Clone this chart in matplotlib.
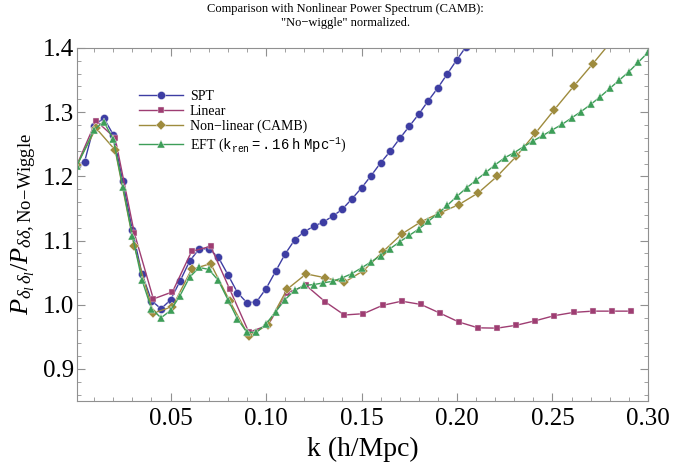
import matplotlib
matplotlib.use("Agg")
import matplotlib.pyplot as plt
from matplotlib.ticker import MultipleLocator, FixedLocator

plt.rcParams['font.family'] = ['Liberation Serif', 'DejaVu Serif']
plt.rcParams['mathtext.fontset'] = 'custom'
plt.rcParams['mathtext.rm'] = 'Liberation Serif'
plt.rcParams['mathtext.it'] = 'Liberation Serif:italic'
plt.rcParams['mathtext.bf'] = 'Liberation Serif:bold'
plt.rcParams['mathtext.tt'] = 'Liberation Mono'
plt.rcParams['mathtext.fallback'] = 'stix'

# SPT
spt_k = [0.001, 0.005, 0.010, 0.015, 0.020, 0.025, 0.030, 0.035, 0.040, 0.045,
         0.050, 0.055, 0.060, 0.065, 0.070, 0.075, 0.080, 0.085, 0.090, 0.095,
         0.100, 0.105, 0.110, 0.115, 0.120, 0.125, 0.130, 0.135, 0.140, 0.145,
         0.150, 0.155, 0.160, 0.165, 0.170, 0.175, 0.180, 0.185, 0.190, 0.195,
         0.200, 0.2045]
spt_r = [1.218, 1.223, 1.279, 1.291, 1.265, 1.192, 1.116, 1.0485, 1.0065, 0.9936,
         1.0076, 1.037, 1.068, 1.087, 1.087, 1.074, 1.047, 1.019, 1.003, 1.0045,
         1.025, 1.052, 1.079, 1.101, 1.114, 1.122, 1.129, 1.138, 1.149, 1.165,
         1.182, 1.201, 1.221, 1.239, 1.259, 1.278, 1.297, 1.318, 1.338, 1.360,
         1.382, 1.401]

# Linear
lin_k = [0.001, 0.011, 0.021, 0.031, 0.041, 0.051, 0.061, 0.071, 0.081, 0.091,
         0.101, 0.111, 0.121, 0.131, 0.141, 0.151, 0.161, 0.171, 0.181, 0.191,
         0.201, 0.211, 0.221, 0.231, 0.241, 0.251, 0.261, 0.271, 0.281, 0.291]
lin_r = [1.218, 1.2865, 1.2596, 1.112, 1.009, 1.020, 1.083, 1.091, 1.024, 0.957,
         0.968, 1.0185, 1.030, 1.0045, 0.984, 0.986, 0.999, 1.0055, 1.0005, 0.987,
         0.973, 0.964, 0.9635, 0.968, 0.975, 0.983, 0.988, 0.990, 0.990, 0.990]

# Non-linear (CAMB)
camb_k = [0.001, 0.011, 0.021, 0.031, 0.041, 0.051, 0.061, 0.071, 0.081, 0.091,
          0.101, 0.111, 0.121, 0.131, 0.141, 0.151, 0.161, 0.171, 0.181, 0.191,
          0.201, 0.211, 0.221, 0.231, 0.241, 0.251, 0.261, 0.271, 0.281]
camb_r = [1.218, 1.275, 1.241, 1.091, 0.987, 0.997, 1.055, 1.064, 1.0055, 0.951,
          0.969, 1.024, 1.048, 1.042, 1.035, 1.053, 1.082, 1.110, 1.129, 1.143,
          1.156, 1.174, 1.200, 1.231, 1.267, 1.304, 1.340, 1.375, 1.411]

# EFT
eft_k = [0.001, 0.010, 0.015, 0.020, 0.025, 0.030, 0.035, 0.040, 0.045, 0.050,
         0.055, 0.060, 0.065, 0.070, 0.075, 0.080, 0.085, 0.090, 0.095, 0.100,
         0.105, 0.110, 0.115, 0.120, 0.125, 0.130, 0.135, 0.140, 0.145, 0.150,
         0.155, 0.160, 0.165, 0.170, 0.175, 0.180, 0.185, 0.190, 0.195, 0.200,
         0.205, 0.210, 0.215, 0.220, 0.225, 0.230, 0.235, 0.240, 0.245, 0.250,
         0.255, 0.260, 0.265, 0.270, 0.275, 0.280, 0.285, 0.290, 0.295, 0.300]
eft_r = [1.2165, 1.2725, 1.2854, 1.258, 1.184, 1.1076, 1.039, 0.9936, 0.9796, 0.991,
         1.0143, 1.043, 1.058, 1.055, 1.038, 1.008, 0.978, 0.957, 0.957, 0.970,
         0.989, 1.008, 1.0226, 1.030, 1.0314, 1.034, 1.0366, 1.042, 1.0485, 1.0574,
         1.0667, 1.0765, 1.0874, 1.098, 1.108, 1.118, 1.130, 1.142, 1.155, 1.169,
         1.182, 1.194, 1.206, 1.218, 1.229, 1.237, 1.2465, 1.2554, 1.2637, 1.2725,
         1.281, 1.291, 1.301, 1.312, 1.324, 1.337, 1.350, 1.363, 1.378, 1.393]

labels = ['SPT', 'Linear', 'Non\u2212linear (CAMB)',
          r'EFT ($\mathtt{k_{ren}{=}.16\ h\ Mpc^{-1}}$)']
colors = ['#3d3da3', '#9e3d72', '#9e8b3d', '#3d9e58']
markers = ['o', 's', 'D', '^']
sizes = [5.8, 5.0, 4.6, 6.0]

fig = plt.figure(figsize=(6.74, 4.69), dpi=100)
ax = fig.add_axes([0.1142, 0.145, 0.8472, 0.7527])

series = [(spt_k, spt_r), (lin_k, lin_r), (camb_k, camb_r), (eft_k, eft_r)]
for (kk, rr), lab, c, m, s in zip(series, labels, colors, markers, sizes):
    ax.plot(kk, rr, color=c, marker=m, ms=s, lw=1.0, mec='#f0f0f0', mew=0.3,
            mfc=c, label=lab)

ax.set_xlim(0.001, 0.30)
ax.set_ylim(0.85, 1.40)
ax.xaxis.set_major_locator(FixedLocator([0.05, 0.10, 0.15, 0.20, 0.25, 0.30]))
ax.xaxis.set_minor_locator(MultipleLocator(0.01))
ax.yaxis.set_major_locator(FixedLocator([0.9, 1.0, 1.1, 1.2, 1.3, 1.4]))
ax.yaxis.set_minor_locator(MultipleLocator(0.02))
ax.set_xticklabels(['0.05', '0.10', '0.15', '0.20', '0.25', '0.30'])
ax.set_yticklabels(['0.9', '1.0', '1.1', '1.2', '1.3', '1.4'])

for sp in ax.spines.values():
    sp.set_color('#909090')
    sp.set_linewidth(0.8)
ax.tick_params(which='both', direction='in', top=True, right=True,
               color='#909090', labelsize=18)
ax.tick_params(axis='x', pad=5)
ax.tick_params(axis='y', pad=2)
ax.tick_params(which='major', length=6, width=0.8)
ax.tick_params(which='minor', length=3, width=0.6)

ax.set_xlabel('k (h/Mpc)', fontsize=20, labelpad=5)
ax.set_ylabel(r'$P_{\delta_l\,\delta_l}/P_{\delta\delta,\mathrm{No\!-\!Wiggle}}$',
              fontsize=19, labelpad=3)
fig.text(0.512, 0.993, 'Comparison with Nonlinear Power Spectrum (CAMB):\n'
         '"No\u2212wiggle" normalized.', ha='center', va='top', fontsize=9,
         linespacing=1.2)

ax.legend(loc='upper left', bbox_to_anchor=(0.108, 0.88), frameon=False,
          fontsize=10, handlelength=3.2, handletextpad=0.5, labelspacing=0.12,
          borderpad=0, borderaxespad=0)

fig.savefig('out.png', dpi=100)
